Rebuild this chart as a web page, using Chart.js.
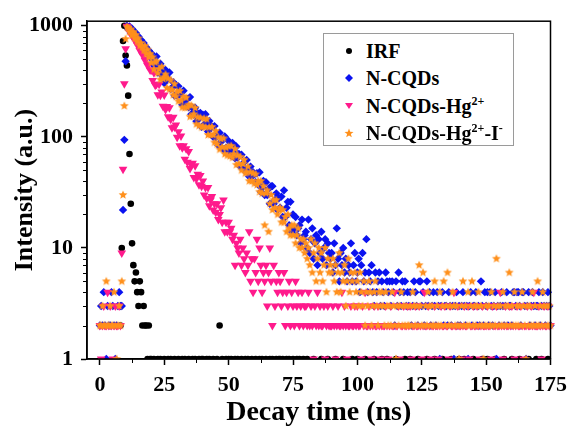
<!DOCTYPE html>
<html lang="en">
<head>
<meta charset="UTF-8">
<title>Fluorescence decay</title>
<script src="https://cdn.jsdelivr.net/npm/chart.js"></script>
<style>
  body { margin: 0; background: #fff; }
  .wrap { position: relative; width: 574px; height: 431px; }
  .legend {
    position: absolute; left: 323px; top: 33px; width: 189px; height: 111px;
    border: 1px solid #9a9a9a; background: #fff;
    font-family: 'Liberation Serif', 'Times New Roman', serif; font-weight: bold; font-size: 20px; color: #000;
  }
  .legend div { position: absolute; left: 0; height: 24px; line-height: 24px; white-space: nowrap; }
  .legend svg { position: absolute; left: 20px; top: 7px; }
  .legend span { position: absolute; left: 42px; }
  .legend sup { font-size: 12px; vertical-align: 0; position: relative; top: -8px; }
</style>
</head>
<body>
<div class="wrap">
  <canvas id="chart" width="574" height="431"></canvas>
  <div class="legend">
    <div style="top:5px"><svg width="10" height="10"><circle cx="5" cy="5" r="3" fill="#000"/></svg><span>IRF</span></div>
    <div style="top:32px"><svg width="10" height="10"><polygon points="5,1 9,5 5,9 1,5" fill="#0a12f0"/></svg><span>N-CQDs</span></div>
    <div style="top:60px"><svg width="10" height="10"><polygon points="1,2 9,2 5,8" fill="#ff1a8c"/></svg><span>N-CQDs-Hg<sup>2+</sup></span></div>
    <div style="top:87px"><svg width="10" height="10"><polygon points="5,0.5 6.2,3.8 9.5,3.9 6.9,6 7.8,9.3 5,7.4 2.2,9.3 3.1,6 0.5,3.9 3.8,3.8" fill="#ff901c"/></svg><span>N-CQDs-Hg<sup>2+</sup>-I<sup>-</sup></span></div>
  </div>
</div>
<script>
const _ = null;

// time channels (ns), 10 ns per row
const times = [
  0,0.5,1,1.5,2,2.5,3,3.5,4,4.5,5,5.5,6,6.5,7,7.5,8,8.5,9,9.5,
  10,10.5,11,11.5,12,12.5,13,13.5,14,14.5,15,15.5,16,16.5,17,17.5,18,18.5,19,19.5,
  20,20.5,21,21.5,22,22.5,23,23.5,24,24.5,25,25.5,26,26.5,27,27.5,28,28.5,29,29.5,
  30,30.5,31,31.5,32,32.5,33,33.5,34,34.5,35,35.5,36,36.5,37,37.5,38,38.5,39,39.5,
  40,40.5,41,41.5,42,42.5,43,43.5,44,44.5,45,45.5,46,46.5,47,47.5,48,48.5,49,49.5,
  50,50.5,51,51.5,52,52.5,53,53.5,54,54.5,55,55.5,56,56.5,57,57.5,58,58.5,59,59.5,
  60,60.5,61,61.5,62,62.5,63,63.5,64,64.5,65,65.5,66,66.5,67,67.5,68,68.5,69,69.5,
  70,70.5,71,71.5,72,72.5,73,73.5,74,74.5,75,75.5,76,76.5,77,77.5,78,78.5,79,79.5,
  80,80.5,81,81.5,82,82.5,83,83.5,84,84.5,85,85.5,86,86.5,87,87.5,88,88.5,89,89.5,
  90,90.5,91,91.5,92,92.5,93,93.5,94,94.5,95,95.5,96,96.5,97,97.5,98,98.5,99,99.5,
  100,100.5,101,101.5,102,102.5,103,103.5,104,104.5,105,105.5,106,106.5,107,107.5,108,108.5,109,109.5,
  110,110.5,111,111.5,112,112.5,113,113.5,114,114.5,115,115.5,116,116.5,117,117.5,118,118.5,119,119.5,
  120,120.5,121,121.5,122,122.5,123,123.5,124,124.5,125,125.5,126,126.5,127,127.5,128,128.5,129,129.5,
  130,130.5,131,131.5,132,132.5,133,133.5,134,134.5,135,135.5,136,136.5,137,137.5,138,138.5,139,139.5,
  140,140.5,141,141.5,142,142.5,143,143.5,144,144.5,145,145.5,146,146.5,147,147.5,148,148.5,149,149.5,
  150,150.5,151,151.5,152,152.5,153,153.5,154,154.5,155,155.5,156,156.5,157,157.5,158,158.5,159,159.5,
  160,160.5,161,161.5,162,162.5,163,163.5,164,164.5,165,165.5,166,166.5,167,167.5,168,168.5,169,169.5,
  170,170.5,171,171.5,172,172.5,173,173.5,174,174.5,175
];

const irf = [
  _,_,_,_,_,_,_,_,_,_,_,_,_,_,_,_,2,10,730,1000,
  540,440,235,70,25,11,7,5,6,4,3,5,4,2,3,2,2,1,2,1,
  1,_,1,_,_,1,_,1,_,_,1,_,_,1,_,1,_,_,1,_,
  _,1,_,_,1,_,1,_,_,1,_,_,1,_,1,_,_,1,_,1,
  1,_,_,1,_,1,_,_,1,_,_,1,_,2,_,1,_,_,1,_,
  1,_,1,_,_,1,_,1,_,_,1,_,_,1,_,1,_,_,1,_,
  _,1,_,_,1,_,1,_,_,1,_,_,1,_,1,_,_,1,_,1,
  1,_,1,_,_,1,_,1,_,_,1,_,_,1,_,1,_,_,1,_,
  _,1,_,_,_,_,1,_,_,_,_,_,1,_,_,_,_,1,_,_,
  _,_,_,1,_,_,_,_,_,1,_,_,_,_,_,_,1,_,_,_,
  1,_,_,_,_,_,1,_,_,_,_,_,_,1,_,_,_,_,_,1,
  _,_,_,1,_,_,_,_,_,_,1,_,_,_,_,_,_,1,_,_,
  _,1,_,_,_,_,_,1,_,_,_,_,_,_,1,_,_,_,_,_,
  1,_,_,_,_,_,1,_,_,_,_,_,_,1,_,_,_,_,_,1,
  _,_,_,1,_,_,_,_,_,_,1,_,_,_,_,_,_,1,_,_,
  _,1,_,_,_,_,_,1,_,_,_,_,_,_,1,_,_,_,_,_,
  1,_,_,_,_,_,1,_,_,_,_,_,_,1,_,_,_,_,_,1,
  _,_,_,1,_,_,_,_,1,_,_
];

const nCqds = [
  2,3,2,4,2,1,3,2,2,4,3,2,1,2,3,4,3,3,22,94,
  480,1000,930,985,860,940,900,820,860,760,800,720,745,660,700,620,640,570,600,520,
  565,450,505,445,530,380,415,455,360,405,305,400,330,335,380,270,275,310,235,295,
  235,285,240,250,195,260,218,190,220,185,228,160,183,158,183,138,163,146,164,123,
  158,129,160,126,112,139,120,124,100,125,99,103,84,109,90,96,77,101,80,74,
  92,75,68,88,75,64,82,65,70,54,69,54,59,49,62,50,44,54,44,48,
  46,39,47,37,48,32,35,40,30,39,30,34,25,36,36,25,27,31,22,28,
  23,29,19,33,19,23,26,16,26,14,20,15,19,13,15,16,11,18,12,13,
  14,10,18,9,12,15,8,11,13,7,12,9,14,8,10,12,7,11,9,8,
  9,6,11,7,15,8,5,9,7,10,6,8,5,7,6,11,5,7,9,5,
  6,8,4,7,9,5,6,12,4,6,5,7,4,3,6,4,5,6,3,5,
  4,3,6,5,4,5,3,5,4,2,5,3,6,4,3,5,4,5,3,4,
  3,4,2,3,5,4,3,2,5,5,3,4,2,3,5,3,4,2,3,4,
  3,2,4,3,1,3,4,2,3,3,2,4,3,2,3,1,3,4,2,3,
  2,3,4,3,2,3,1,3,4,2,3,3,4,2,3,2,5,3,2,4,
  3,4,2,4,3,2,3,4,1,3,2,3,4,3,2,3,4,2,3,3,
  2,4,4,3,4,4,3,2,4,4,3,1,3,4,2,3,4,3,2,3,
  3,4,2,3,4,3,2,3,4,3,2
];

const nCqdsHg = [
  2,1,2,3,2,2,4,2,3,2,1,2,3,2,2,3,2,9,51,300,
  620,990,950,880,870,810,800,740,730,670,670,600,610,550,550,490,500,440,450,400,
  399,322,377,292,298,239,298,237,253,189,238,176,188,152,183,144,121,150,123,128,
  99,111,83,102,80,83,63,78,59,74,52,56,58,43,55,42,46,37,45,36,
  40,30,35,28,35,24,27,29,22,25,21,25,18,20,23,17,27,14,17,14,
  17,14,15,12,13,7,11,10,9,12,7,10,8,6,9,7,14,5,8,4,
  8,6,12,5,10,7,4,6,5,7,3,6,10,5,2,7,3,5,4,6,
  5,3,4,6,2,4,3,5,2,4,3,2,5,3,4,2,3,4,2,3,
  3,2,4,2,3,2,1,3,2,4,2,3,2,2,3,1,2,3,2,2,
  2,3,2,1,2,3,2,2,4,2,3,2,1,2,2,3,2,2,3,2,
  3,2,2,1,3,2,4,2,2,3,2,1,2,3,2,2,3,2,1,2,
  2,2,3,2,1,2,3,2,2,4,2,2,3,1,2,2,3,2,2,3,
  2,3,1,2,2,3,2,2,3,2,1,2,4,2,2,3,2,1,2,2,
  3,2,2,1,2,3,2,2,3,2,2,1,3,2,2,4,2,2,3,2,
  2,1,2,3,2,2,3,1,2,2,3,2,2,3,2,1,2,3,2,2,
  2,3,2,2,1,3,2,2,3,2,2,4,2,1,2,3,2,2,3,2,
  3,2,1,2,3,2,2,3,2,1,2,2,3,2,2,3,2,4,2,2,
  2,3,2,1,2,3,2,2,3,2,2
];

const nCqdsHgI = [
  2,2,3,2,2,5,2,2,3,2,2,4,2,1,2,3,2,5,30,190,
  760,980,960,880,930,820,880,770,830,720,770,660,700,640,600,660,560,610,520,560,
  464,521,405,468,479,373,408,328,428,333,344,365,276,335,268,323,265,238,299,231,
  256,209,259,212,184,230,183,225,184,194,152,192,153,160,182,130,150,126,149,122,
  124,146,122,144,104,122,104,123,104,89,113,86,99,77,96,81,97,70,80,68,
  82,67,83,65,70,78,56,68,57,66,50,57,62,47,48,54,40,48,40,47,
  38,46,37,40,32,40,31,36,16,31,33,14,25,30,22,27,23,27,20,22,
  23,17,22,17,19,14,20,15,13,16,13,16,11,13,15,10,12,10,12,9,
  11,8,10,7,12,6,9,11,5,8,10,6,9,5,7,10,4,8,6,7,
  6,8,5,7,4,6,9,4,6,5,7,3,5,8,4,6,5,3,6,4,
  5,3,6,4,3,5,2,4,3,5,4,2,3,4,5,3,2,4,3,4,
  3,2,4,3,2,3,2,4,3,2,1,3,2,3,4,2,3,2,3,2,
  2,3,2,4,3,2,3,2,7,3,2,6,2,3,2,4,3,2,3,2,
  5,2,3,2,4,2,3,5,2,3,6,2,3,2,4,3,2,3,2,1,
  2,3,5,2,3,2,4,2,3,5,2,3,2,3,4,2,3,2,1,2,
  3,2,3,2,4,2,3,2,8,3,2,3,2,4,2,3,2,3,6,2,
  3,2,4,2,3,2,3,2,4,3,2,1,3,2,3,2,4,2,3,2,
  5,2,3,2,4,3,2,3,2,3,2
];

const xMajor = [0, 25, 50, 75, 100, 125, 150, 175];
const xMinor = [12.5, 37.5, 62.5, 87.5, 112.5, 137.5, 162.5];
const yMajor = [1, 10, 100, 1000];
const yMinor = [2,3,4,5,6,7,8,9, 20,30,40,50,60,70,80,90, 200,300,400,500,600,700,800,900];

const serif = "'Liberation Serif', 'Times New Roman', serif";

function points(vals) {
  return times.map((t, i) => ({ x: t, y: vals[i] })).filter(p => p.y !== null);
}

// filled five-point star used as marker
function starMarker(r, color) {
  const c = document.createElement('canvas');
  c.width = c.height = Math.ceil(r * 2 + 2);
  const g = c.getContext('2d');
  const m = c.width / 2;
  g.fillStyle = color;
  g.beginPath();
  for (let k = 0; k < 10; k++) {
    const a = -Math.PI / 2 + k * Math.PI / 5;
    const rr = k % 2 ? r * 0.45 : r;
    g.lineTo(m + rr * Math.cos(a), m + rr * Math.sin(a));
  }
  g.closePath();
  g.fill();
  return c;
}

const frameTicks = {
  id: 'frameTicks',
  afterDraw(chart) {
    const { ctx, chartArea: a, scales: { x, y } } = chart;
    ctx.save();
    ctx.strokeStyle = '#000';
    ctx.lineWidth = 1.5;
    ctx.strokeRect(a.left, a.top, a.right - a.left, a.bottom - a.top);
    ctx.lineWidth = 1;
    ctx.beginPath();
    yMinor.forEach(v => {
      const py = Math.round(y.getPixelForValue(v)) + 0.5;
      ctx.moveTo(a.left, py);
      ctx.lineTo(a.left - 4, py);
    });
    xMinor.forEach(v => {
      const px = Math.round(x.getPixelForValue(v)) + 0.5;
      ctx.moveTo(px, a.bottom);
      ctx.lineTo(px, a.bottom + 4);
    });
    ctx.stroke();
    ctx.restore();
  }
};

const clip = { left: 8, top: 8, right: 8, bottom: 0 };

new Chart(document.getElementById('chart'), {
  type: 'scatter',
  data: {
    datasets: [
      { label: 'IRF', data: points(irf), pointStyle: 'circle', pointRadius: 3.3,
        backgroundColor: '#000', borderWidth: 0, order: 3, clip },
      { label: 'N-CQDs', data: points(nCqds), pointStyle: 'rectRot', pointRadius: 4.2,
        backgroundColor: '#0a12f0', borderWidth: 0, order: 2, clip },
      { label: 'N-CQDs-Hg2+', data: points(nCqdsHg), pointStyle: 'triangle', pointRotation: 180, pointRadius: 5,
        backgroundColor: '#ff1a8c', borderWidth: 0, order: 1, clip },
      { label: 'N-CQDs-Hg2+-I-', data: points(nCqdsHgI), pointStyle: starMarker(4.6, '#ff901c'), pointRadius: 4.6,
        backgroundColor: '#ff901c', borderWidth: 0, order: 0, clip }
    ]
  },
  options: {
    responsive: false,
    animation: false,
    layout: { padding: { top: 17, right: 21, left: 0, bottom: 0 } },
    plugins: { legend: { display: false }, tooltip: { enabled: false } },
    scales: {
      x: {
        type: 'linear', min: -5, max: 175,
        afterBuildTicks: s => { s.ticks = xMajor.map(v => ({ value: v })); },
        afterFit: s => { s.height = 72; },
        grid: { drawOnChartArea: false, drawTicks: true, tickLength: 6, tickWidth: 1.5, tickColor: '#000' },
        border: { display: true, color: '#000', width: 1.5 },
        ticks: { color: '#000', padding: 7, maxRotation: 0, autoSkip: false,
          font: { family: serif, size: 22, weight: 'bold' }, callback: v => String(v) },
        title: { display: true, text: 'Decay time (ns)', color: '#000',
          font: { family: serif, size: 28, weight: 'bold' }, padding: { top: 0, bottom: 1 } }
      },
      y: {
        type: 'logarithmic', min: 1, max: 1100,
        afterBuildTicks: s => { s.ticks = yMajor.map(v => ({ value: v })); },
        afterFit: s => { s.width = 87; },
        grid: { drawOnChartArea: false, drawTicks: true, tickLength: 6, tickWidth: 1.5, tickColor: '#000' },
        border: { display: true, color: '#000', width: 1.5 },
        ticks: { color: '#000', padding: 8, autoSkip: false,
          font: { family: serif, size: 22, weight: 'bold' }, callback: v => String(v) },
        title: { display: true, text: 'Intensity (a.u.)', color: '#000',
          font: { family: serif, size: 26, weight: 'bold' }, padding: { top: 10, bottom: 0 } }
      }
    }
  },
  plugins: [frameTicks]
});
</script>
</body>
</html>
